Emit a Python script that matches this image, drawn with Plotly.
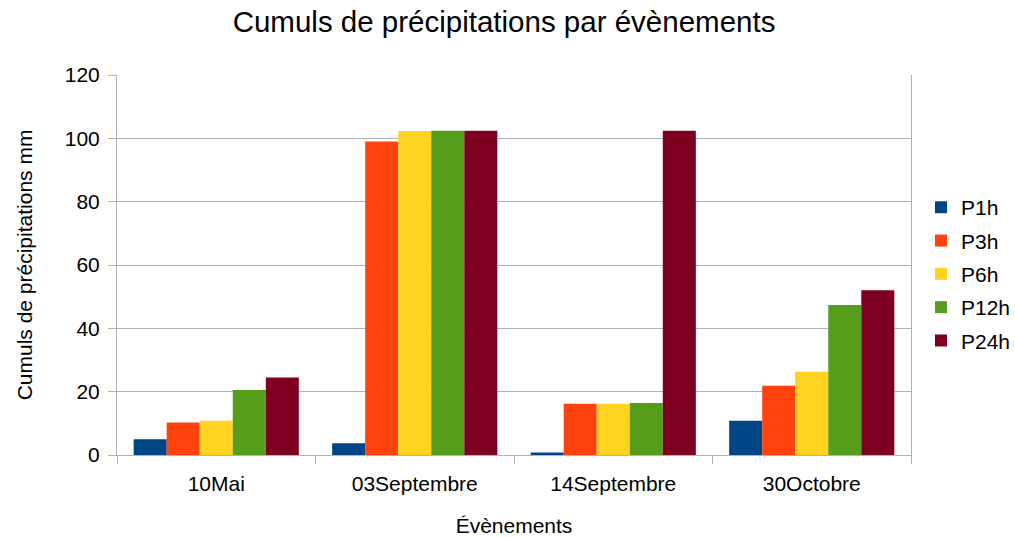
import plotly.graph_objects as go

categories = ["10Mai", "03Septembre", "14Septembre", "30Octobre"]
series_names = ["P1h", "P3h", "P6h", "P12h", "P24h"]
p1h = [5.0, 3.7, 0.8, 10.8]
p3h = [10.3, 99.0, 16.2, 21.9]
p6h = [10.8, 102.3, 16.2, 26.3]
p12h = [20.5, 102.4, 16.4, 47.4]
p24h = [24.5, 102.4, 102.4, 52.0]
colors = ["#004586", "#ff420e", "#ffd320", "#579d1c", "#7e0021"]
y_ticks = [0, 20, 40, 60, 80, 100, 120]

fig = go.Figure()
for name, vals, col in zip(series_names, [p1h, p3h, p6h, p12h, p24h], colors):
    fig.add_trace(go.Bar(name=name, x=categories, y=vals, legendgroup=name,
                         marker=dict(color=col, line=dict(width=0))))

font = "Liberation Sans, Arial, sans-serif"
fig.update_layout(
    width=1015, height=537,
    barmode="group", bargap=0.168, bargroupgap=0,
    paper_bgcolor="white", plot_bgcolor="white",
    margin=dict(l=117, r=104, t=75, b=82, autoexpand=False),
    font=dict(family=font, size=21, color="#000000"),
    title=dict(text="Cumuls de précipitations par évènements", x=0.4966, xref="container", xanchor="center",
               y=0.959, yanchor="middle", font=dict(size=29.5, color="#000000", family=font)),
    legend=dict(x=1.0126, xanchor="left", y=0.476, yanchor="middle", font=dict(size=21, family=font),
                bgcolor="rgba(0,0,0,0)", itemwidth=30, tracegroupgap=3),
    showlegend=True,
)
fig.update_xaxes(
    title=dict(text="Évènements", font=dict(size=21), standoff=30),
    automargin=False,
    showline=True, linecolor="#b3b3b3", linewidth=1,
    ticks="outside", tickson="boundaries", ticklen=8, tickcolor="#b3b3b3",
    ticklabelstandoff=10,
    showgrid=False, tickfont=dict(size=21),
)
fig.update_yaxes(
    title=dict(text="Cumuls de précipitations mm", font=dict(size=21), standoff=26),
    automargin=False,
    range=[0, 120], tickvals=y_ticks,
    showline=True, linecolor="#b3b3b3", linewidth=1, mirror=True,
    ticks="outside", ticklen=8, tickcolor="#b3b3b3",
    ticklabelstandoff=4,
    showgrid=True, gridcolor="#b3b3b3", gridwidth=1, zeroline=False,
    tickfont=dict(size=21),
)
fig.write_html("out.html", config={"displayModeBar": False},
               post_script="document.body.style.margin='0px';")
